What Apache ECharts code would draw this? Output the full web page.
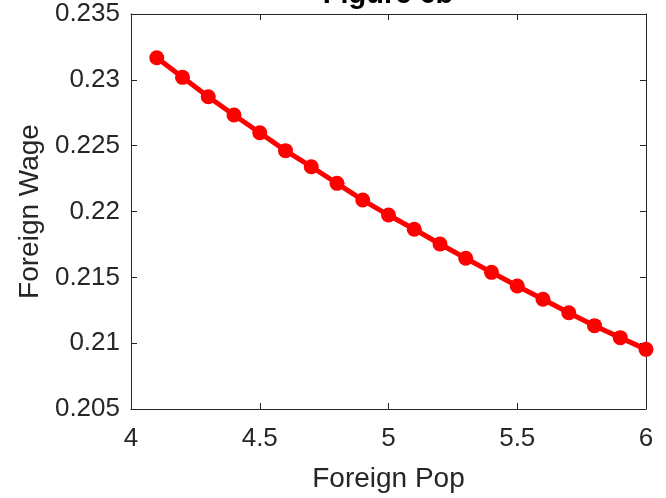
<!DOCTYPE html>
<html>
<head>
<meta charset="utf-8">
<script src="https://cdn.jsdelivr.net/npm/echarts@6/dist/echarts.min.js"></script>
<style>html,body{margin:0;padding:0;background:#fff;}#c{width:666px;height:498px;}</style>
</head>
<body>
<div id="c"></div>
<script>
const foreignPop = [4.1, 4.2, 4.3, 4.4, 4.5, 4.6, 4.7, 4.8, 4.9, 5.0, 5.1, 5.2, 5.3, 5.4, 5.5, 5.6, 5.7, 5.8, 5.9, 6.0];
const foreignWage = [0.23168, 0.23019, 0.22872, 0.22733, 0.22598, 0.22462, 0.22340, 0.22214, 0.22087, 0.21973,
                     0.21865, 0.21753, 0.21645, 0.21538, 0.21434, 0.21333, 0.21231, 0.21133, 0.21042, 0.20953];
const titleText = 'Figure 6b';
const xName = 'Foreign Pop';
const yName = 'Foreign Wage';

const ink = '#262626';
const font = 'Liberation Sans, Arial, Helvetica, sans-serif';

const chart = echarts.init(document.getElementById('c'), null, {renderer: 'canvas'});
chart.setOption({
  animation: false,
  backgroundColor: '#ffffff',
  title: {
    text: titleText,
    left: 388, top: -20, padding: 0,
    textAlign: 'center',
    textStyle: {fontFamily: font, fontSize: 29, fontWeight: 'bold', color: '#000'}
  },
  grid: {left: 131, right: 20, top: 14, bottom: 89, containLabel: false},
  xAxis: [{
    type: 'value', min: 4, max: 6, interval: 0.5, position: 'bottom',
    name: xName, nameLocation: 'middle', nameGap: 56,
    nameTextStyle: {fontFamily: font, fontSize: 28, color: ink},
    axisLine: {show: true, onZero: false, lineStyle: {color: ink, width: 1}},
    axisTick: {show: true, inside: true, length: 6, lineStyle: {color: ink}},
    axisLabel: {margin: 17, fontFamily: font, fontSize: 26, color: ink},
    splitLine: {show: false}
  }, {
    type: 'value', min: 4, max: 6, interval: 0.5, position: 'top',
    axisLine: {show: true, onZero: false, lineStyle: {color: ink, width: 1}},
    axisTick: {show: true, inside: true, length: 6, lineStyle: {color: ink}},
    axisLabel: {show: false},
    splitLine: {show: false}
  }],
  yAxis: [{
    type: 'value', min: 0.205, max: 0.235, interval: 0.005, position: 'left',
    name: yName, nameLocation: 'middle', nameGap: 86, nameRotate: 90,
    nameTextStyle: {fontFamily: font, fontSize: 28, color: ink},
    axisLine: {show: true, onZero: false, lineStyle: {color: ink, width: 1}},
    axisTick: {show: true, inside: true, length: 6, lineStyle: {color: ink}},
    axisLabel: {margin: 11, fontFamily: font, fontSize: 26, color: ink},
    splitLine: {show: false}
  }, {
    type: 'value', min: 0.205, max: 0.235, interval: 0.005, position: 'right',
    axisLine: {show: true, onZero: false, lineStyle: {color: ink, width: 1}},
    axisTick: {show: true, inside: true, length: 6, lineStyle: {color: ink}},
    axisLabel: {show: false},
    splitLine: {show: false}
  }],
  series: [{
    type: 'line',
    xAxisIndex: 0, yAxisIndex: 0,
    data: foreignPop.map((x, i) => [x, foreignWage[i]]),
    lineStyle: {color: '#ff0000', width: 5},
    itemStyle: {color: '#ff0000'},
    symbol: 'circle', symbolSize: 15,
    clip: false
  }]
});
</script>
</body>
</html>
